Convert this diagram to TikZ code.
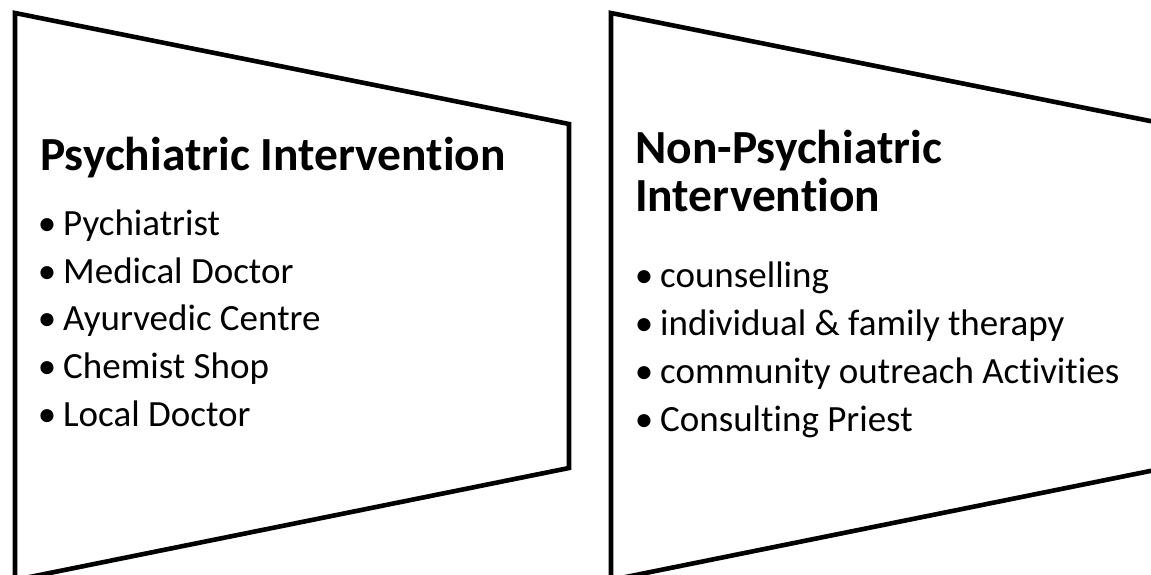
\documentclass[tikz,border=0pt]{standalone}
\usepackage{fontspec}
\setmainfont{Carlito}[Ligatures=NoCommon]
\begin{document}
\begin{tikzpicture}[x=1pt,y=-1pt,
  panel/.style={draw=black,line width=4.6pt,line join=miter,fill=white},
  title/.style={anchor=base west,inner sep=0pt,font=\fontsize{47.5}{47}\selectfont\bfseries},
  item/.style={anchor=base west,inner sep=0pt,font=\fontsize{37}{47}\selectfont}]
\useasboundingbox (0,0) rectangle (1151,575);
\clip (0,0) rectangle (1151,575);
\draw[panel] (15,13) -- (569,124) -- (569,468) -- (15,580) -- cycle;
\draw[panel] (611,13) -- (1165,124) -- (1165,468) -- (611,580) -- cycle;
\node[title] (t1) at (40,170) {Psychiatric Intervention};
\node[item] (a1) at (63,235) {\llap{•\hspace{7pt}}Pychiatrist};
\node[item] (a2) at (63,283) {\llap{•\hspace{7pt}}Medical Doctor};
\node[item] (a3) at (63,330) {\llap{•\hspace{7pt}}Ayurvedic Centre};
\node[item] (a4) at (63,378) {\llap{•\hspace{7pt}}Chemist Shop};
\node[item] (a5) at (63,426) {\llap{•\hspace{7pt}}Local Doctor};
\node[title] (t2) at (635,164) {Non-Psychiatric};
\node[title] (t3) at (635,211) {Intervention};
\node[item] (b1) at (660,287) {\llap{•\hspace{7pt}}counselling};
\node[item] (b2) at (660,335) {\llap{•\hspace{7pt}}individual \& family therapy};
\node[item] (b3) at (660,383) {\llap{•\hspace{7pt}}community outreach Activities};
\node[item] (b4) at (660,431) {\llap{•\hspace{7pt}}Consulting Priest};
\end{tikzpicture}
\end{document}
